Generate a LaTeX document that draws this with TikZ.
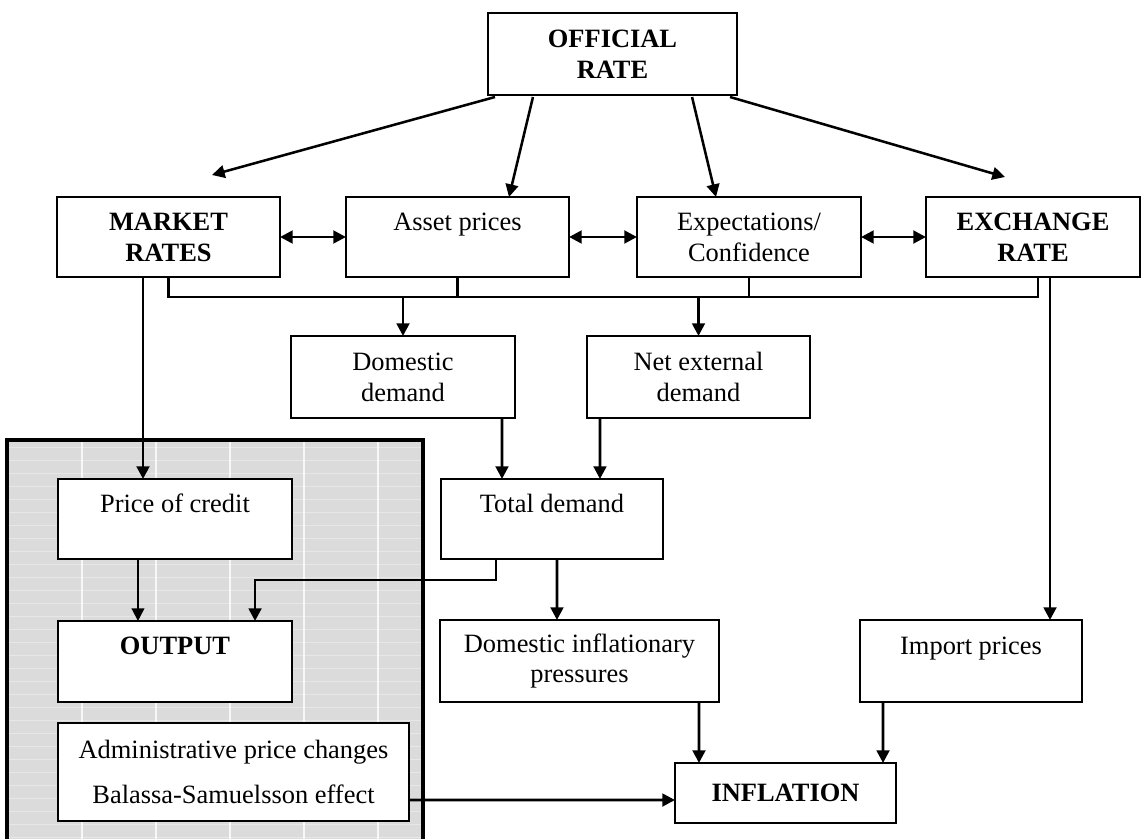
\documentclass[tikz,border=0pt]{standalone}
\usepackage{fontspec}
\setmainfont{Liberation Serif}
\usetikzlibrary{arrows.meta, calc}
\newcommand\fs{\fontsize{18.8}{22}\selectfont}

\begin{document}
\begin{tikzpicture}[
  x=0.025cm, y=-0.025cm,
  font=\fs,
  >={Triangle[length=9pt, width=9pt]},
  box/.style={draw, line width=2pt, fill=white, align=center, inner sep=0pt,
              outer sep=0pt},
  hd/.style={box, font=\fs\bfseries},
  flow/.style={->, line width=2pt},
  thinflow/.style={->, line width=1.3pt},
  twoway/.style={<->, line width=2pt},
  wire/.style={line width=2pt},
]
\useasboundingbox (0,0) rectangle (1141,839);
\fill[white] (0,0) rectangle (1141,839);

% ======================= shaded supply side =============================
\fill[gray!28] (7,440) rectangle (423,860);
\foreach \y in {447,460,...,839} {
  \draw[white, line width=0.5pt, opacity=0.35] (8,\y) -- (422,\y);
}
\foreach \x in {82,156,...,422} {
  \draw[white, line width=0.8pt, opacity=0.8] (\x,441) -- (\x,839);
}
\draw[line width=2.4pt] (7,860) -- (7,440) -- (423,440) -- (423,860);

% ======================= top ============================================
\node[hd, minimum width=6.225cm, minimum height=2.05cm] (off) at (612.5,54)
  {OFFICIAL\\RATE};

\node[hd, minimum width=5.575cm, minimum height=2cm] (mkt) at (168.5,237)
  {MARKET\\RATES};
\node[box, minimum width=5.575cm, minimum height=2cm] (ast) at (457.5,237)
  {Asset prices\\~};
\node[box, minimum width=5.6cm, minimum height=2cm] (exp) at (749,237)
  {Expectations/\\Confidence};
\node[hd, minimum width=5.35cm, minimum height=2cm] (exr) at (1033,237)
  {EXCHANGE\\RATE};

\coordinate (mkttip) at (212,175);
\coordinate (exrtip) at (1005,177);
\draw[flow, line width=1.8pt] ($(off.south west)+(7,2)$) -- (mkttip);
\draw[flow, line width=1.8pt] ($(off.south west)+(45,2)$) -- ($(ast.north)+(51.5,0)$);
\draw[flow, line width=1.8pt] ($(off.south east)+(-45,2)$) -- ($(exp.north)+(-33,0)$);
\draw[flow, line width=1.8pt] ($(off.south east)+(-7,2)$) -- (exrtip);

\foreach \a/\b in {mkt/ast, ast/exp, exp/exr} {
  \draw[twoway] (\a.east) -- (\b.west);
}

% ======================= demand =========================================
\node[box, minimum width=5.6cm, minimum height=2.05cm] (dom) at (403,377)
  {Domestic\\demand};
\node[box, minimum width=5.575cm, minimum height=2.05cm] (net) at (698.5,377)
  {Net external\\demand};
\node[box, minimum width=5.55cm, minimum height=2cm] (tot) at (552,519)
  {Total demand\\~};

\coordinate (busR) at (1038,297);
\draw[wire] (mkt.south) |- (busR) -- (exr.south -| busR);
\draw[wire] (ast.south) -- (ast.south |- busR);
\draw[wire] (exp.south) -- (exp.south |- busR);
\draw[flow] (dom.north |- busR) -- (dom.north);
\draw[flow] (net.north |- busR) -- (net.north);

\draw[flow] ($(dom.south east)+(-13,0)$) -- ($(tot.north west)+(61,0)$);
\draw[flow] ($(net.south west)+(13,0)$) -- ($(tot.north west)+(159,0)$);

% ======================= left column ====================================
\node[box, minimum width=5.85cm, minimum height=2cm] (pcr) at (175,519)
  {Price of credit\\~};
\node[hd, minimum width=5.85cm, minimum height=2.025cm] (out) at (175,661.5)
  {OUTPUT\\~};
\node[box, minimum width=8.775cm, minimum height=2.45cm] (adm) at (233.5,772)
  {Administrative price changes\\[10pt]Balassa-Samuelsson effect};

\coordinate (xm) at (143,0);
\draw[flow] (mkt.south -| xm) -- (pcr.north -| xm);
\draw[thinflow] ($(pcr.south west)+(80,0)$) -- ($(out.north west)+(80,0)$);
\draw[flow] ($(tot.south west)+(55,0)$) -- ++(0,21) -| ($(out.north east)+(-37,0)$);

% ======================= prices =========================================
\node[box, minimum width=6.975cm, minimum height=2.05cm] (dip) at (579.5,661)
  {Domestic inflationary\\pressures};
\node[box, minimum width=5.55cm, minimum height=2.05cm] (imp) at (971,661)
  {Import prices\\~};
\node[hd, minimum width=5.525cm, minimum height=1.5cm] (inf) at (785.5,793)
  {INFLATION};

\coordinate (xe) at (1050,0);
\draw[flow] (exr.south -| xe) -- (imp.north -| xe);
\draw[flow] ($(tot.south)+(5,0)$) -- ($(dip.north west)+(117,0)$);
\draw[flow] ($(dip.south east)+(-20,0)$) -- ($(inf.north west)+(24,0)$);
\draw[flow] ($(imp.south west)+(23,0)$) -- ($(inf.north east)+(-13,0)$);
\draw[flow] ($(adm.south east)+(0,-21)$) -- ($(inf.south west)+(0,-23)$);
\end{tikzpicture}
\end{document}
